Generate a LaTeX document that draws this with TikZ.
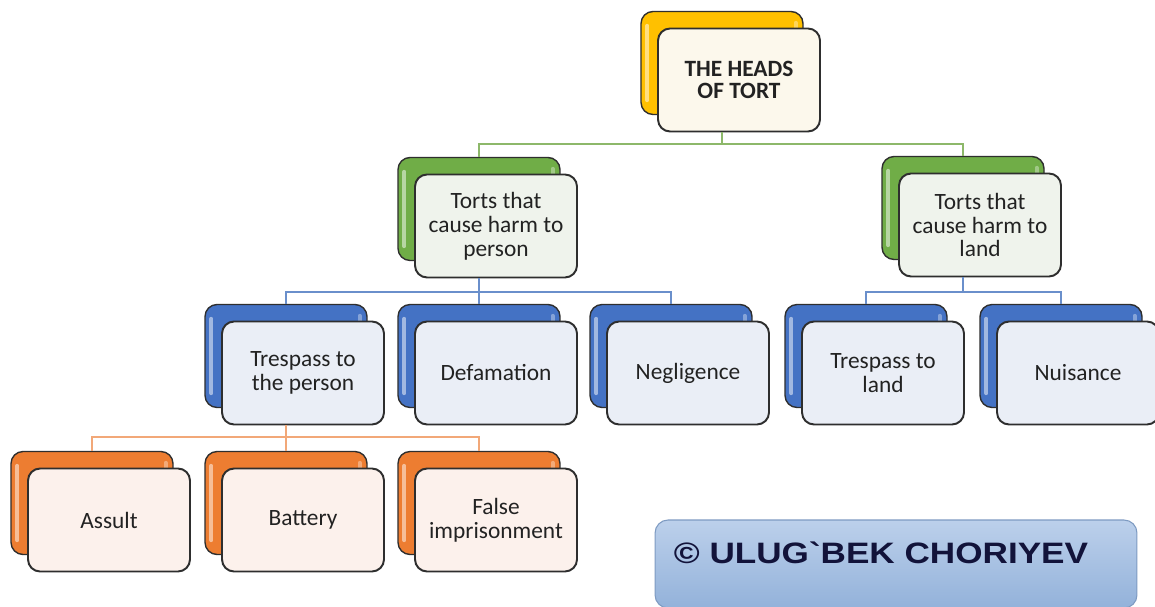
\documentclass[tikz,border=0pt]{standalone}
\usepackage{fontspec}
\usepackage{graphicx}
\setmainfont{Carlito}
\newfontfamily\arialfont{Liberation Sans}
\usetikzlibrary{calc}
\definecolor{yelB}{HTML}{FFC000}
\definecolor{grnB}{HTML}{70AD47}
\definecolor{bluB}{HTML}{4472C4}
\definecolor{orgB}{HTML}{ED7D31}
\definecolor{yelF}{HTML}{FCF8EC}
\definecolor{grnF}{HTML}{EFF3EC}
\definecolor{bluF}{HTML}{EAEEF6}
\definecolor{orgF}{HTML}{FCF1EC}
\definecolor{gLine}{HTML}{8DB86A}
\definecolor{bLine}{HTML}{6A8FCB}
\definecolor{oLine}{HTML}{F2A878}
\definecolor{edge}{HTML}{2E2E2E}
\definecolor{txt}{HTML}{222222}
\definecolor{cTop}{HTML}{BCD0EB}
\definecolor{cBot}{HTML}{93B2DA}
\definecolor{cEdge}{HTML}{7E9BC2}
\definecolor{cTxt}{HTML}{12133A}
\tikzset{
  backbox/.style={draw=edge, line width=0.8pt, rounded corners=0.24cm,
    minimum width=3.24cm, minimum height=2.06cm, inner sep=0pt},
  frontbox/.style={draw=edge, line width=1.1pt, rounded corners=0.24cm,
    minimum width=3.24cm, minimum height=2.06cm, inner sep=0pt,
    align=center, text=txt, font=\fontsize{13.3pt}{13.6pt}\selectfont},
  shine/.style={white, opacity=0.5, line width=2.2pt, line cap=round},
  gline/.style={gLine, line width=1.3pt},
  bline/.style={bLine, line width=1.3pt},
  oline/.style={oLine, line width=1.3pt},
  cbox/.style={draw=cEdge, line width=0.6pt, rounded corners=0.26cm,
    top color=cTop, bottom color=cBot, minimum width=9.64cm,
    minimum height=1.76cm, inner sep=0pt},
}
\newcommand{\mkbox}[6]{%
  \node[backbox, fill=#4] (#1B) at (#2,#3) {};
  \draw[shine] ($(#1B.north west)+(7,15)$) -- ($(#1B.south west)+(7,-15)$);
  \draw[shine, opacity=0.35] ($(#1B.north east)+(-8,12)$) -- ($(#1B.north east)+(-8,22)$);
  \node[frontbox, fill=#5] (#1F) at ($(#1B)+(17,17)$) {#6};
}
\begin{document}
\begin{tikzpicture}[x=0.02cm,y=-0.02cm]
\useasboundingbox (0,0) rectangle (1155,607);
\fill[white] (0,0) rectangle (1155,607);
% bars
\coordinate (gbar) at (0,144);
\coordinate (bbar) at (0,292);
\coordinate (obar) at (0,437);
% boxes
\mkbox{root}{722}{63}{yelB}{yelF}{\textbf{THE HEADS}\\[-1.5pt] \textbf{OF TORT}}
\mkbox{gA}{479}{209}{grnB}{grnF}{Torts that\\ cause harm to\\ person}
\mkbox{gB}{963}{208}{grnB}{grnF}{Torts that\\ cause harm to\\ land}
% connectors (root -> green)
\draw[gline] (rootB.south |- rootF.south) -- (rootB.south |- gbar) -| (gAB.north);
\draw[gline] (rootB.south |- gbar) -| (gBB.north);
\mkbox{bA}{286}{356}{bluB}{bluF}{Trespass to\\ the person}
\mkbox{bB}{479}{356}{bluB}{bluF}{Defamation}
\mkbox{bC}{671}{356}{bluB}{bluF}{Negligence}
\mkbox{bD}{866}{356}{bluB}{bluF}{Trespass to\\ land}
\mkbox{bE}{1061}{356}{bluB}{bluF}{Nuisance}
\mkbox{oA}{92}{503}{orgB}{orgF}{Assult}
\mkbox{oB}{286}{503}{orgB}{orgF}{Battery}
\mkbox{oC}{479}{503}{orgB}{orgF}{False\\ imprisonment}
% connectors (green -> blue)
\draw[bline] (gAB.south |- gAF.south) -- (gAB.south |- bbar) -| (bAB.north);
\draw[bline] (gAB.south |- bbar) -- (bBB.north);
\draw[bline] (gAB.south |- bbar) -| (bCB.north);
\draw[bline] (gBB.south |- gBF.south) -- (gBB.south |- bbar) -| (bDB.north);
\draw[bline] (gBB.south |- bbar) -| (bEB.north);
% connectors (blue -> orange)
\draw[oline] (bAB.south |- bAF.south) -- (bAB.south |- obar) -| (oAB.north);
\draw[oline] (bAB.south |- obar) -- (oBB.north);
\draw[oline] (bAB.south |- obar) -| (oCB.north);
% copyright box
\node[cbox] (copy) at (896,564) {};
\node[anchor=base west, inner sep=0pt, text=cTxt,
  font=\arialfont\bfseries\fontsize{16.8pt}{18pt}\selectfont]
  (copytext) at ($(copy.west)+(19,-1)$) {\scalebox{1.19}[1]{\char"00A9\ ULUG\char96 BEK CHORIYEV}};
\end{tikzpicture}
\end{document}
